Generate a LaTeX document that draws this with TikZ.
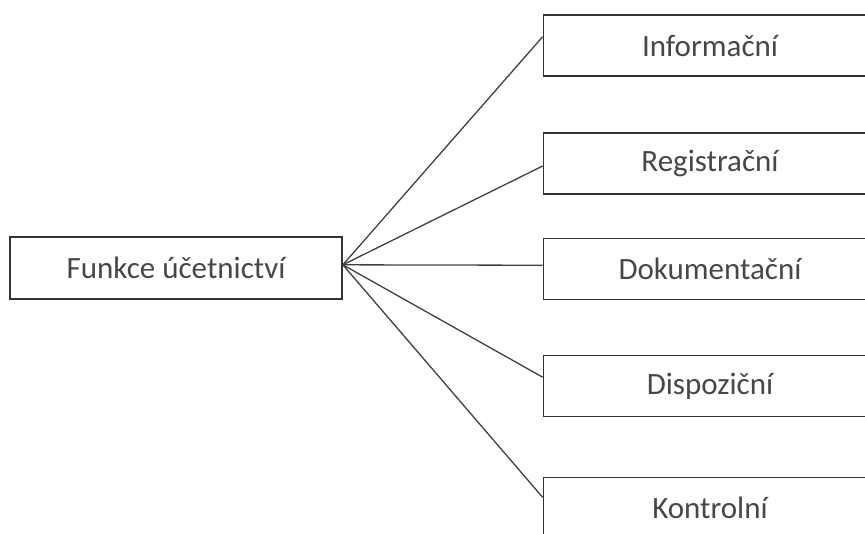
\documentclass[tikz,border=0pt]{standalone}
\usepackage{fontspec}
\setmainfont{Carlito}
\usetikzlibrary{calc}
\begin{document}
\begin{tikzpicture}[x=1pt,y=-1pt,
  fbox/.style={draw=black!80, line width=1.7pt, fill=white, rectangle,
    minimum width=333pt, minimum height=61pt, inner sep=0pt,
    text=black!72, font=\fontsize{31}{36}\selectfont},
  link/.style={draw=black!75, line width=1.3pt}]
  \useasboundingbox (0,0) rectangle (865,534);
  \clip (0,0) rectangle (865,534);

  % root box
  \node[fbox, minimum width=332pt, minimum height=62pt] (func) at (176,268) {Funkce účetnictví};

  % the five functions
  \node[fbox] (inf)  at (710,45.5)  {Informační};
  \node[fbox] (reg)  at (710,163.5) {Registrační};
  \node[fbox] (dok)  at (710,269)   {Dokumentační};
  \node[fbox] (disp) at (710,386)   {Dispoziční};
  \node[fbox] (kon)  at (710,508)   {Kontrolní};

  % fan of connectors from one point on the root box
  \coordinate (hub) at ($(func.north east)!0.45!(func.south east)$);
  \draw[link] (hub) -- ($(inf.north west)!0.36!(inf.south west)$);
  \draw[link] (hub) -- ($(reg.north west)!0.54!(reg.south west)$);
  \draw[link] (hub) -- ($(dok.north west)!0.44!(dok.south west)$);
  \draw[link] (hub) -- ($(disp.north west)!0.36!(disp.south west)$);
  \draw[link] (hub) -- ($(kon.north west)!0.33!(kon.south west)$);
\end{tikzpicture}
\end{document}
